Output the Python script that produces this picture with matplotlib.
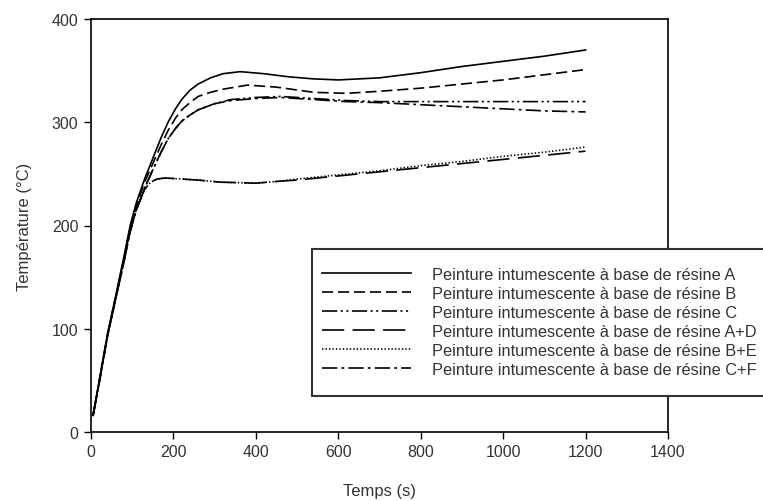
import matplotlib
matplotlib.use("Agg")
import matplotlib.pyplot as plt
from matplotlib.patches import Rectangle

plt.rcParams['font.family'] = ['Liberation Sans', 'DejaVu Sans']
plt.rcParams['lines.scale_dashes'] = False

# data
t_a = [5, 20, 40, 60, 80, 95, 110, 130, 150, 170, 187, 205, 220, 240, 260, 290, 320, 362, 420, 480, 540, 600, 700, 800, 900, 1000, 1100, 1200]
temp_a = [16, 50, 95, 132, 170, 200, 222, 245, 265, 285, 300, 313, 322, 331, 337, 343, 347, 349, 347, 344, 342, 341, 343, 348, 354, 359, 364, 370]

t_b = [5, 20, 40, 60, 80, 95, 110, 130, 150, 170, 187, 205, 220, 240, 260, 290, 320, 380, 450, 540, 620, 700, 800, 900, 1000, 1100, 1200]
temp_b = [16, 49, 94, 131, 168, 197, 219, 242, 260, 278, 292, 304, 312, 319, 325, 329, 332, 336, 334, 329, 328, 330, 333, 337, 341, 346, 351]

t_c = [5, 20, 40, 60, 80, 95, 110, 130, 150, 170, 187, 205, 220, 240, 260, 300, 340, 400, 460, 540, 620, 700, 800, 900, 1000, 1100, 1200]
temp_c = [16, 48, 93, 129, 165, 194, 215, 236, 254, 271, 284, 294, 301, 307, 312, 318, 322, 324, 325, 323, 321, 320, 320, 320, 320, 320, 320]
temp_cf = [16, 48, 93, 129, 165, 194, 215, 236, 254, 271, 284, 294, 301, 307, 312, 318, 321, 323, 324, 322, 320, 319, 317, 315, 313, 311, 310]

t_low = [5, 20, 40, 60, 80, 95, 110, 130, 145, 160, 180, 220, 260, 313, 400, 460, 500, 600, 700, 800, 900, 1000, 1100, 1200]
temp_ad = [16, 48, 93, 130, 166, 195, 216, 235, 242, 245, 246, 245, 244, 242, 241, 243, 244, 248, 252, 256, 260, 264, 268, 272]
temp_be = [16, 48, 93, 130, 166, 195, 216, 235, 242, 245, 246, 245, 244, 242, 241, 243, 245, 249, 253, 258, 262, 267, 271, 276]

labels = ["Peinture intumescente à base de résine A",
          "Peinture intumescente à base de résine B",
          "Peinture intumescente à base de résine C",
          "Peinture intumescente à base de résine A+D",
          "Peinture intumescente à base de résine B+E",
          "Peinture intumescente à base de résine C+F"]

W, H = 763, 502
fig = plt.figure(figsize=(W / 100, H / 100), dpi=100)
ax = fig.add_axes([91 / W, 1 - 433 / H, 577 / W, 413 / H])

lw = 1.2
ax.plot(t_a, temp_a, color='black', lw=lw, label=labels[0])
ax.plot(t_b, temp_b, color='black', lw=lw, dashes=(8, 3.5), label=labels[1])
ax.plot(t_c, temp_c, color='black', lw=lw, dashes=(11, 2.5, 1.5, 2.5, 1.5, 2.5), label=labels[2])
ax.plot(t_low, temp_ad, color='black', lw=lw, dashes=(16, 6), label=labels[3])
ax.plot(t_low, temp_be, color='black', lw=lw, dashes=(1, 1.5), label=labels[4])
ax.plot(t_c, temp_cf, color='black', lw=lw, dashes=(11, 3, 2, 3), label=labels[5])

ax.set_xlim(0, 1400)
ax.set_ylim(0, 400)
ax.set_xticks(range(0, 1401, 200))
ax.set_yticks(range(0, 401, 100))
ax.tick_params(direction='out', length=5, width=1, labelsize=11.5, labelcolor='#333333', pad=4)
for s in ax.spines.values():
    s.set_linewidth(1.2)

ax.set_xlabel("Temps (s)", fontsize=12, color='#333333', labelpad=17)
ax.set_ylabel("Température (°C)", fontsize=12, color='#333333', labelpad=14)

# legend box runs off the right edge like in the original
box = Rectangle((312 / W, 1 - 397 / H), (W + 20 - 312) / W, 147 / H,
                transform=fig.transFigure, facecolor='white', edgecolor='#333333',
                lw=1.5, zorder=3, clip_on=False)
fig.patches.append(box)

handles, _ = ax.get_legend_handles_labels()
leg = fig.legend(handles, labels, loc='upper left',
                 bbox_to_anchor=(322 / W, 1 - 268 / H), fontsize=11.8,
                 frameon=False, handlelength=5.4, handletextpad=1.3,
                 labelspacing=0.24, borderpad=0, borderaxespad=0)
leg.set_zorder(4)
for txt in leg.get_texts():
    txt.set_color('#333333')

fig.savefig("out.png", dpi=100)
